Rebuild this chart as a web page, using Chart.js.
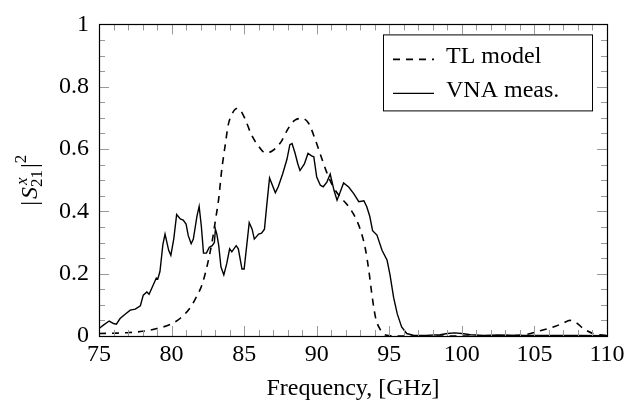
<!DOCTYPE html>
<html>
<head>
<meta charset="utf-8">
<script src="https://cdn.jsdelivr.net/npm/chart.js@4.4.0/dist/chart.umd.min.js"></script>
<style>body{margin:0;background:#fff}canvas{display:block}</style>
</head>
<body>
<canvas id="chart" width="638" height="407"></canvas>
<script>
// TL model (dashed)
const tlFreq = [75, 76, 77.1, 78, 79, 79.9, 80.6, 81.3, 81.75, 82.1, 82.45, 82.8, 83.0, 83.25, 83.45, 83.7, 83.9, 84.15, 84.5, 84.7,
  85.05, 85.5, 86, 86.45, 86.9, 87.5, 88.05, 88.5, 89, 89.45, 89.9, 90.25, 90.65, 91.1, 91.6, 92.1, 92.55, 93.0, 93.35, 93.6,
  93.8, 94.05, 94.4, 94.75, 95.5, 100, 103, 104.3, 105.4, 106.45, 107, 107.45, 107.9, 108.4, 109.1, 110];
const tlVal = [0.008, 0.009, 0.011, 0.015, 0.024, 0.037, 0.057, 0.092, 0.129, 0.165, 0.225, 0.305, 0.365, 0.442, 0.531, 0.614, 0.677, 0.711, 0.73, 0.727,
  0.698, 0.646, 0.609, 0.588, 0.593, 0.62, 0.667, 0.693, 0.698, 0.682, 0.63, 0.583, 0.53, 0.482, 0.447, 0.421, 0.39, 0.342, 0.28, 0.207,
  0.134, 0.06, 0.019, 0.003, 0, 0, 0.001, 0.004, 0.017, 0.031, 0.042, 0.05, 0.042, 0.023, 0.007, 0.002];

// VNA measurement (solid)
const vnaFreq = [75, 75.3, 75.7, 76, 76.2, 76.45, 76.8, 77.15, 77.5, 77.85, 78.05, 78.3, 78.45, 78.75, 78.95, 79.05, 79.2, 79.4, 79.55, 79.8,
  79.95, 80.15, 80.35, 80.6, 80.8, 81, 81.15, 81.35, 81.5, 81.75, 81.9, 82.05, 82.2, 82.4, 82.6, 82.8, 82.95, 83.02, 83.12, 83.25,
  83.4, 83.6, 83.8, 84, 84.15, 84.45, 84.6, 84.85, 85, 85.35, 85.55, 85.7, 86, 86.2, 86.4, 86.55, 86.75, 87.15, 87.35, 87.65,
  87.95, 88.15, 88.3, 88.5, 88.7, 88.85, 89.15, 89.4, 89.65, 89.8, 90, 90.25, 90.45, 90.7, 90.93, 91.2, 91.4, 91.6, 91.85, 92.2,
  92.55, 92.9, 93.25, 93.45, 93.65, 93.85, 94.15, 94.5, 94.85, 95.05, 95.3, 95.55, 95.85, 96.2, 96.7, 97.5, 98.5, 99, 99.5, 100,
  100.6, 101.5, 102.5, 104, 106, 108, 110];
const vnaVal = [0.024, 0.035, 0.048, 0.04, 0.038, 0.056, 0.07, 0.083, 0.086, 0.097, 0.131, 0.141, 0.134, 0.165, 0.186, 0.183, 0.207, 0.293, 0.327, 0.275,
  0.259, 0.311, 0.39, 0.376, 0.372, 0.359, 0.322, 0.296, 0.311, 0.385, 0.416, 0.353, 0.266, 0.266, 0.285, 0.29, 0.3, 0.343, 0.327, 0.29,
  0.222, 0.196, 0.232, 0.28, 0.27, 0.29, 0.28, 0.215, 0.215, 0.364, 0.343, 0.311, 0.327, 0.33, 0.343, 0.416, 0.507, 0.46, 0.479, 0.52,
  0.567, 0.614, 0.618, 0.588, 0.552, 0.531, 0.552, 0.586, 0.578, 0.575, 0.51, 0.484, 0.479, 0.494, 0.52, 0.466, 0.436, 0.46, 0.491, 0.478,
  0.457, 0.431, 0.434, 0.415, 0.385, 0.338, 0.324, 0.275, 0.243, 0.196, 0.123, 0.071, 0.029, 0.008, 0.002, 0.002, 0.004, 0.008, 0.01, 0.008,
  0.004, 0.002, 0.003, 0.002, 0.002, 0.002, 0.001];

const xTicks = [75, 80, 85, 90, 95, 100, 105, 110];
const yTicks = [0, 0.2, 0.4, 0.6, 0.8, 1];

const serif = "'Liberation Serif', 'Times New Roman', serif";
const fontSize = 24;

// inward tick marks + frame, like pgfplots
const framePlugin = {
  id: 'frame',
  afterDatasetsDraw(chart) {
    const { ctx, chartArea: a, scales: { x, y } } = chart;
    ctx.save();
    ctx.strokeStyle = '#999';
    ctx.lineWidth = 1;
    ctx.beginPath();
    for (let f = 75; f <= 110; f++) {
      const px = Math.round(x.getPixelForValue(f)) + 0.5;
      const len = f % 5 === 0 ? 10 : 6;
      ctx.moveTo(px, a.bottom); ctx.lineTo(px, a.bottom - len);
      ctx.moveTo(px, a.top); ctx.lineTo(px, a.top + len);
    }
    for (let i = 0; i <= 20; i++) {
      const py = Math.round(y.getPixelForValue(i * 0.05)) + 0.5;
      const len = i % 4 === 0 ? 10 : 6;
      ctx.moveTo(a.left, py); ctx.lineTo(a.left + len, py);
      ctx.moveTo(a.right, py); ctx.lineTo(a.right - len, py);
    }
    ctx.stroke();
    ctx.strokeStyle = '#000';
    ctx.lineWidth = 1.2;
    ctx.strokeRect(Math.round(a.left) + 0.5, Math.round(a.top) + 0.5,
      Math.round(a.right - a.left), Math.round(a.bottom - a.top));
    ctx.restore();
  },
  afterDraw(chart) {
    const { ctx, chartArea: a } = chart;
    ctx.save();
    // y axis title |S^x_21|^2, rotated
    const cy = (a.top + a.bottom) / 2;
    const big = fontSize + 'px ' + serif;
    const bigIt = 'italic ' + fontSize + 'px ' + serif;
    const small = '17px ' + serif;
    const smallIt = 'italic 17px ' + serif;
    ctx.fillStyle = '#000';
    ctx.textBaseline = 'alphabetic';
    ctx.font = big; const wBar = ctx.measureText('|').width;
    ctx.font = bigIt; const wS = ctx.measureText('S').width;
    ctx.font = smallIt; const wx = ctx.measureText('x').width;
    ctx.font = small; const w21 = ctx.measureText('21').width; const w2 = ctx.measureText('2').width;
    const wScr = Math.max(wx + 2, w21);
    const total = wBar + 2 + wS + wScr + 2 + wBar + w2;
    ctx.translate(37, cy);
    ctx.rotate(-Math.PI / 2);
    let p = -total / 2;
    ctx.font = big; ctx.fillText('|', p, 0); p += wBar + 2;
    ctx.font = bigIt; ctx.fillText('S', p, 0); p += wS;
    ctx.font = smallIt; ctx.fillText('x', p + 2, -10);
    ctx.font = small; ctx.fillText('21', p, 5); p += wScr + 2;
    ctx.font = big; ctx.fillText('|', p, 0); p += wBar;
    ctx.font = small; ctx.fillText('2', p, -11);
    ctx.restore();

    // legend box
    ctx.save();
    const bx = a.right - 224, by = a.top + 10, bw = 209, bh = 76;
    ctx.fillStyle = '#fff';
    ctx.fillRect(bx, by, bw, bh);
    ctx.strokeStyle = '#000';
    ctx.lineWidth = 1;
    ctx.strokeRect(bx + 0.5, by + 0.5, bw, bh);
    chart.data.datasets.forEach((ds, i) => {
      const ly = by + 25 + i * 34;
      ctx.strokeStyle = ds.borderColor;
      ctx.lineWidth = ds.borderWidth;
      ctx.setLineDash(ds.borderDash || []);
      ctx.beginPath();
      ctx.moveTo(bx + 10, ly); ctx.lineTo(bx + 51, ly);
      ctx.stroke();
      ctx.setLineDash([]);
      ctx.fillStyle = '#000';
      ctx.font = big;
      ctx.textBaseline = 'alphabetic';
      ctx.fillText(ds.label, bx + 63, ly + 4);
    });
    ctx.restore();
  }
};

new Chart(document.getElementById('chart').getContext('2d'), {
  type: 'line',
  data: {
    datasets: [{
      label: 'TL model',
      data: tlFreq.map((f, i) => ({ x: f, y: tlVal[i] })),
      borderColor: '#000',
      borderWidth: 1.6,
      borderDash: [7, 6],
      pointRadius: 0,
      cubicInterpolationMode: 'monotone',
      fill: false
    }, {
      label: 'VNA meas.',
      data: vnaFreq.map((f, i) => ({ x: f, y: vnaVal[i] })),
      borderColor: '#000',
      borderWidth: 1.4,
      pointRadius: 0,
      tension: 0,
      fill: false
    }]
  },
  options: {
    responsive: false,
    animation: false,
    layout: { padding: { top: 17, right: 31, bottom: 0, left: 0 } },
    plugins: { legend: { display: false }, tooltip: { enabled: false } },
    scales: {
      x: {
        type: 'linear',
        min: 75,
        max: 110,
        afterBuildTicks: s => { s.ticks = xTicks.map(v => ({ value: v })); },
        afterFit: s => { s.height = 71; },
        grid: { display: false, drawTicks: false },
        border: { display: false },
        ticks: { font: { family: serif, size: fontSize }, color: '#000', padding: 4, maxRotation: 0, autoSkip: false },
        title: {
          display: true,
          text: 'Frequency, [GHz]',
          color: '#000',
          font: { family: serif, size: fontSize },
          padding: { top: 0, bottom: 4 }
        }
      },
      y: {
        min: 0,
        max: 1,
        afterBuildTicks: s => { s.ticks = yTicks.map(v => ({ value: v })); },
        afterFit: s => { s.width = 99; },
        grid: { display: false, drawTicks: false },
        border: { display: false },
        ticks: {
          font: { family: serif, size: fontSize },
          color: '#000',
          padding: 10,
          callback: v => String(v)
        }
      }
    }
  },
  plugins: [framePlugin]
});
</script>
</body>
</html>
